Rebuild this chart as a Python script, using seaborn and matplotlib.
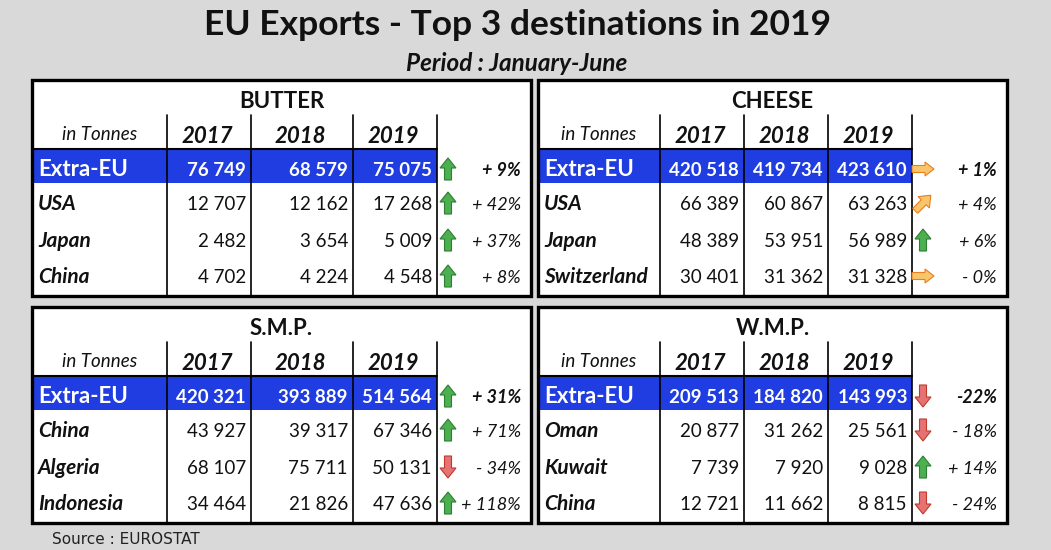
import math
import matplotlib
matplotlib.use("Agg")
import matplotlib.pyplot as plt
from matplotlib.patches import Rectangle, Polygon
import seaborn as sns

sns.set_theme(style="white")
plt.rcParams['font.family'] = ['Lato', 'DejaVu Sans']

# ---------------- data ----------------
title = "EU Exports - Top 3 destinations in 2019"
subtitle = "Period : January-June"
source = "Source : EUROSTAT"
years = ["2017", "2018", "2019"]
unit_label = "in Tonnes"

butter_rows = ["Extra-EU", "USA", "Japan", "China"]
butter_2017 = [76749, 12707, 2482, 4702]
butter_2018 = [68579, 12162, 3654, 4224]
butter_2019 = [75075, 17268, 5009, 4548]
butter_pct = ["+ 9%", "+ 42%", "+ 37%", "+ 8%"]
butter_trend = ["up", "up", "up", "up"]

cheese_rows = ["Extra-EU", "USA", "Japan", "Switzerland"]
cheese_2017 = [420518, 66389, 48389, 30401]
cheese_2018 = [419734, 60867, 53951, 31362]
cheese_2019 = [423610, 63263, 56989, 31328]
cheese_pct = ["+ 1%", "+ 4%", "+ 6%", "- 0%"]
cheese_trend = ["right", "upright", "up", "right"]

smp_rows = ["Extra-EU", "China", "Algeria", "Indonesia"]
smp_2017 = [420321, 43927, 68107, 34464]
smp_2018 = [393889, 39317, 75711, 21826]
smp_2019 = [514564, 67346, 50131, 47636]
smp_pct = ["+ 31%", "+ 71%", "- 34%", "+ 118%"]
smp_trend = ["up", "up", "down", "up"]

wmp_rows = ["Extra-EU", "Oman", "Kuwait", "China"]
wmp_2017 = [209513, 20877, 7739, 12721]
wmp_2018 = [184820, 31262, 7920, 11662]
wmp_2019 = [143993, 25561, 9028, 8815]
wmp_pct = ["-22%", "- 18%", "+ 14%", "- 24%"]
wmp_trend = ["down", "down", "up", "down"]

# ---------------- layout ----------------
BG = "#d9d9d9"
BLUE = "#1f3de0"
panels = [
    dict(name="BUTTER", rows=butter_rows, vals=[butter_2017, butter_2018, butter_2019],
         pct=butter_pct, trend=butter_trend, x0=32, x1=531, y0=80, cols=[167, 251, 353, 437]),
    dict(name="CHEESE", rows=cheese_rows, vals=[cheese_2017, cheese_2018, cheese_2019],
         pct=cheese_pct, trend=cheese_trend, x0=538, x1=1007, y0=80, cols=[660, 744, 828, 912]),
    dict(name="S.M.P.", rows=smp_rows, vals=[smp_2017, smp_2018, smp_2019],
         pct=smp_pct, trend=smp_trend, x0=32, x1=531, y0=307, cols=[167, 251, 353, 437]),
    dict(name="W.M.P.", rows=wmp_rows, vals=[wmp_2017, wmp_2018, wmp_2019],
         pct=wmp_pct, trend=wmp_trend, x0=538, x1=1007, y0=307, cols=[660, 744, 828, 912]),
]
PANEL_H = 216
ROW_BASE = [96, 130, 167, 203]

fig = plt.figure(figsize=(10.51, 5.5), dpi=100, facecolor=BG)
ax = fig.add_axes([0, 0, 1, 1])
ax.set_xlim(0, 1051)
ax.set_ylim(550, 0)
ax.axis("off")
ax.set_facecolor(BG)

ax.text(518, 35, title, ha="center", va="baseline", fontsize=25.5, fontweight="bold", color="#111111")
ax.text(517, 71, subtitle, ha="center", va="baseline", fontsize=17.5, fontweight="bold",
        fontstyle="italic", color="#111111")
ax.text(52, 544, source, ha="left", va="baseline", fontsize=11, color="#222222",
        family=["DejaVu Sans"])

ARROW_STYLE = {
    "up": ("#4caf50", "#2e7d32"),
    "down": ("#e57373", "#c0392b"),
    "right": ("#f9c56b", "#e67e22"),
    "upright": ("#f9c56b", "#e67e22"),
}


def arrow(cx, cy, kind):
    fc, ec = ARROW_STYLE[kind]
    h, hh, hw, sw = 22, 10, 16, 7
    base = [(-sw / 2, h / 2), (-sw / 2, -h / 2 + hh), (-hw / 2, -h / 2 + hh), (0, -h / 2),
            (hw / 2, -h / 2 + hh), (sw / 2, -h / 2 + hh), (sw / 2, h / 2)]
    if kind == "up":
        pts = base
    elif kind == "down":
        pts = [(x, -y) for x, y in base]
    elif kind == "right":
        h, hh, hw, sw = 22, 9, 14, 7
        pts = [(-h / 2, -sw / 2), (h / 2 - hh, -sw / 2), (h / 2 - hh, -hw / 2), (h / 2, 0),
               (h / 2 - hh, hw / 2), (h / 2 - hh, sw / 2), (-h / 2, sw / 2)]
    else:  # up-right diagonal
        a = math.radians(45)
        pts = [(x * math.cos(a) - y * math.sin(a), x * math.sin(a) + y * math.cos(a)) for x, y in base]
    ax.add_patch(Polygon([(cx + x, cy + y) for x, y in pts], closed=True, facecolor=fc,
                         edgecolor=ec, linewidth=0.8, zorder=5))


def fmt(v):
    return f"{v:,}".replace(",", " ")


for p in panels:
    x0, x1, y0 = p["x0"], p["x1"], p["y0"]
    y1 = y0 + PANEL_H
    cols = p["cols"]
    ax.add_patch(Rectangle((x0, y0), x1 - x0, y1 - y0, facecolor="white", edgecolor="none", zorder=1))
    ax.add_patch(Rectangle((x0, y0 + 70), cols[3] - x0, 33, facecolor=BLUE, edgecolor="none", zorder=2))
    for c in cols:
        ax.plot([c, c], [y0 + 35, y1], color="black", lw=1.2, zorder=3)
    ax.plot([x0, cols[3]], [y0 + 69, y0 + 69], color="black", lw=1.5, zorder=3)
    ax.add_patch(Rectangle((x0, y0), x1 - x0, y1 - y0, facecolor="none", edgecolor="black",
                           linewidth=2.4, zorder=6))
    ax.text((x0 + x1) / 2, y0 + 28, p["name"], ha="center", va="baseline", fontsize=16,
            fontweight="bold", color="#111111", zorder=7)
    ax.text((x0 + cols[0]) / 2, y0 + 60, unit_label, ha="center", va="baseline", fontsize=13.5,
            fontstyle="italic", color="#111111", zorder=7)
    for i, yr in enumerate(years):
        ax.text((cols[i] + cols[i + 1]) / 2 - 2, y0 + 63, yr, ha="center", va="baseline",
                fontsize=16, fontweight="bold", fontstyle="italic", color="#111111", zorder=7)
    for r, name in enumerate(p["rows"]):
        yb = y0 + ROW_BASE[r]
        first = r == 0
        ax.text(x0 + 6, yb, name, ha="left", va="baseline",
                fontsize=16 if first else 15, fontweight="bold",
                fontstyle="normal" if first else "italic",
                color="white" if first else "#111111", zorder=7)
        for i in range(3):
            ax.text(cols[i + 1] - 5, yb, fmt(p["vals"][i][r]), ha="right", va="baseline",
                    fontsize=13.5, fontweight="bold" if first else "normal",
                    color="white" if first else "#111111", zorder=7)
        arrow(cols[3] + 11, yb - 7, p["trend"][r])
        ax.text(x1 - 10, yb, p["pct"][r], ha="right", va="baseline", fontsize=13,
                fontstyle="italic", fontweight="bold" if first else "normal",
                color="#111111", zorder=7)

fig.savefig("out.png", dpi=100, facecolor=BG)
